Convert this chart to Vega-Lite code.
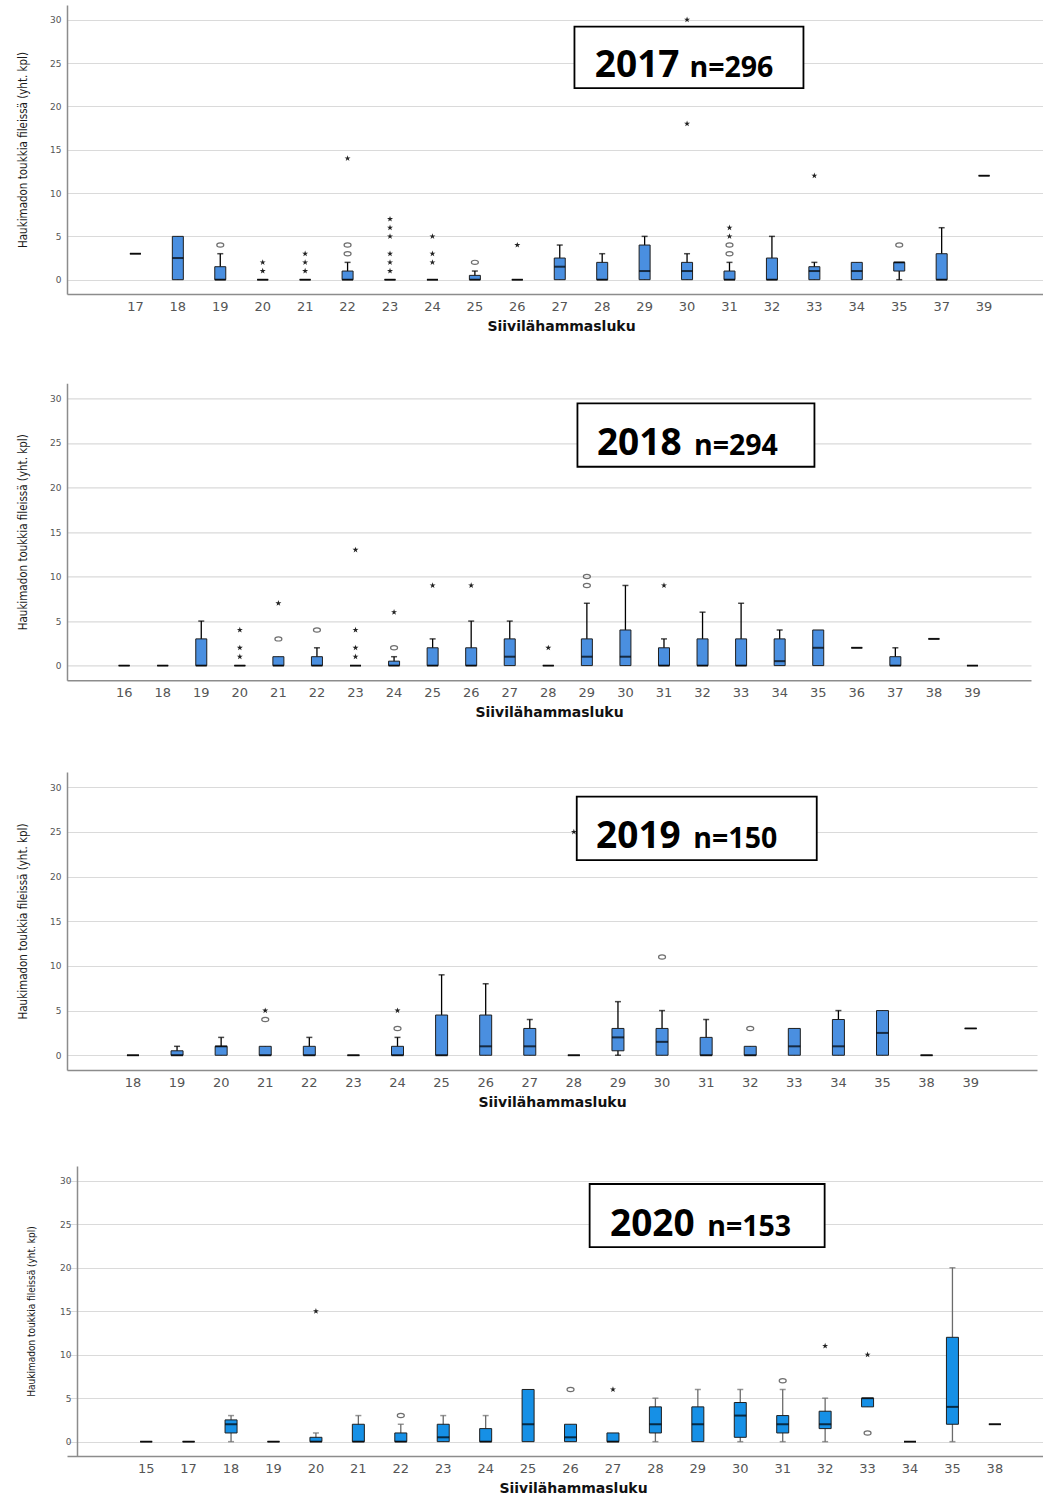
{
  "$schema": "https://vega.github.io/schema/vega-lite/v6.json",
  "padding": {"left": 17, "top": 5, "right": 0, "bottom": 0},
  "background": "white",
  "datasets": {
    "boxes": [
      {"year":2017,"g":"17","lo":3,"q1":3,"med":3,"q3":3,"hi":3},
      {"year":2017,"g":"18","lo":0,"q1":0,"med":2.5,"q3":5,"hi":5},
      {"year":2017,"g":"19","lo":0,"q1":0,"med":0,"q3":1.5,"hi":3},
      {"year":2017,"g":"20","lo":0,"q1":0,"med":0,"q3":0,"hi":0},
      {"year":2017,"g":"21","lo":0,"q1":0,"med":0,"q3":0,"hi":0},
      {"year":2017,"g":"22","lo":0,"q1":0,"med":0,"q3":1,"hi":2},
      {"year":2017,"g":"23","lo":0,"q1":0,"med":0,"q3":0,"hi":0},
      {"year":2017,"g":"24","lo":0,"q1":0,"med":0,"q3":0,"hi":0},
      {"year":2017,"g":"25","lo":0,"q1":0,"med":0,"q3":0.5,"hi":1},
      {"year":2017,"g":"26","lo":0,"q1":0,"med":0,"q3":0,"hi":0},
      {"year":2017,"g":"27","lo":0,"q1":0,"med":1.5,"q3":2.5,"hi":4},
      {"year":2017,"g":"28","lo":0,"q1":0,"med":0,"q3":2,"hi":3},
      {"year":2017,"g":"29","lo":0,"q1":0,"med":1,"q3":4,"hi":5},
      {"year":2017,"g":"30","lo":0,"q1":0,"med":1,"q3":2,"hi":3},
      {"year":2017,"g":"31","lo":0,"q1":0,"med":0,"q3":1,"hi":2},
      {"year":2017,"g":"32","lo":0,"q1":0,"med":0,"q3":2.5,"hi":5},
      {"year":2017,"g":"33","lo":0,"q1":0,"med":1,"q3":1.5,"hi":2},
      {"year":2017,"g":"34","lo":0,"q1":0,"med":1,"q3":2,"hi":2},
      {"year":2017,"g":"35","lo":0,"q1":1,"med":2,"q3":2,"hi":2},
      {"year":2017,"g":"37","lo":0,"q1":0,"med":0,"q3":3,"hi":6},
      {"year":2017,"g":"39","lo":12,"q1":12,"med":12,"q3":12,"hi":12},

      {"year":2018,"g":"16","lo":0,"q1":0,"med":0,"q3":0,"hi":0},
      {"year":2018,"g":"18","lo":0,"q1":0,"med":0,"q3":0,"hi":0},
      {"year":2018,"g":"19","lo":0,"q1":0,"med":0,"q3":3,"hi":5},
      {"year":2018,"g":"20","lo":0,"q1":0,"med":0,"q3":0,"hi":0},
      {"year":2018,"g":"21","lo":0,"q1":0,"med":0,"q3":1,"hi":1},
      {"year":2018,"g":"22","lo":0,"q1":0,"med":0,"q3":1,"hi":2},
      {"year":2018,"g":"23","lo":0,"q1":0,"med":0,"q3":0,"hi":0},
      {"year":2018,"g":"24","lo":0,"q1":0,"med":0,"q3":0.5,"hi":1},
      {"year":2018,"g":"25","lo":0,"q1":0,"med":0,"q3":2,"hi":3},
      {"year":2018,"g":"26","lo":0,"q1":0,"med":0,"q3":2,"hi":5},
      {"year":2018,"g":"27","lo":0,"q1":0,"med":1,"q3":3,"hi":5},
      {"year":2018,"g":"28","lo":0,"q1":0,"med":0,"q3":0,"hi":0},
      {"year":2018,"g":"29","lo":0,"q1":0,"med":1,"q3":3,"hi":7},
      {"year":2018,"g":"30","lo":0,"q1":0,"med":1,"q3":4,"hi":9},
      {"year":2018,"g":"31","lo":0,"q1":0,"med":0,"q3":2,"hi":3},
      {"year":2018,"g":"32","lo":0,"q1":0,"med":0,"q3":3,"hi":6},
      {"year":2018,"g":"33","lo":0,"q1":0,"med":0,"q3":3,"hi":7},
      {"year":2018,"g":"34","lo":0,"q1":0,"med":0.5,"q3":3,"hi":4},
      {"year":2018,"g":"35","lo":0,"q1":0,"med":2,"q3":4,"hi":4},
      {"year":2018,"g":"36","lo":2,"q1":2,"med":2,"q3":2,"hi":2},
      {"year":2018,"g":"37","lo":0,"q1":0,"med":0,"q3":1,"hi":2},
      {"year":2018,"g":"38","lo":3,"q1":3,"med":3,"q3":3,"hi":3},
      {"year":2018,"g":"39","lo":0,"q1":0,"med":0,"q3":0,"hi":0},

      {"year":2019,"g":"18","lo":0,"q1":0,"med":0,"q3":0,"hi":0},
      {"year":2019,"g":"19","lo":0,"q1":0,"med":0,"q3":0.5,"hi":1},
      {"year":2019,"g":"20","lo":0,"q1":0,"med":1,"q3":1,"hi":2},
      {"year":2019,"g":"21","lo":0,"q1":0,"med":0,"q3":1,"hi":1},
      {"year":2019,"g":"22","lo":0,"q1":0,"med":0,"q3":1,"hi":2},
      {"year":2019,"g":"23","lo":0,"q1":0,"med":0,"q3":0,"hi":0},
      {"year":2019,"g":"24","lo":0,"q1":0,"med":0,"q3":1,"hi":2},
      {"year":2019,"g":"25","lo":0,"q1":0,"med":0,"q3":4.5,"hi":9},
      {"year":2019,"g":"26","lo":0,"q1":0,"med":1,"q3":4.5,"hi":8},
      {"year":2019,"g":"27","lo":0,"q1":0,"med":1,"q3":3,"hi":4},
      {"year":2019,"g":"28","lo":0,"q1":0,"med":0,"q3":0,"hi":0},
      {"year":2019,"g":"29","lo":0,"q1":0.5,"med":2,"q3":3,"hi":6},
      {"year":2019,"g":"30","lo":0,"q1":0,"med":1.5,"q3":3,"hi":5},
      {"year":2019,"g":"31","lo":0,"q1":0,"med":0,"q3":2,"hi":4},
      {"year":2019,"g":"32","lo":0,"q1":0,"med":0,"q3":1,"hi":1},
      {"year":2019,"g":"33","lo":0,"q1":0,"med":1,"q3":3,"hi":3},
      {"year":2019,"g":"34","lo":0,"q1":0,"med":1,"q3":4,"hi":5},
      {"year":2019,"g":"35","lo":0,"q1":0,"med":2.5,"q3":5,"hi":5},
      {"year":2019,"g":"38","lo":0,"q1":0,"med":0,"q3":0,"hi":0},
      {"year":2019,"g":"39","lo":3,"q1":3,"med":3,"q3":3,"hi":3},

      {"year":2020,"g":"15","lo":0,"q1":0,"med":0,"q3":0,"hi":0},
      {"year":2020,"g":"17","lo":0,"q1":0,"med":0,"q3":0,"hi":0},
      {"year":2020,"g":"18","lo":0,"q1":1,"med":2,"q3":2.5,"hi":3},
      {"year":2020,"g":"19","lo":0,"q1":0,"med":0,"q3":0,"hi":0},
      {"year":2020,"g":"20","lo":0,"q1":0,"med":0,"q3":0.5,"hi":1},
      {"year":2020,"g":"21","lo":0,"q1":0,"med":0,"q3":2,"hi":3},
      {"year":2020,"g":"22","lo":0,"q1":0,"med":0,"q3":1,"hi":2},
      {"year":2020,"g":"23","lo":0,"q1":0,"med":0.5,"q3":2,"hi":3},
      {"year":2020,"g":"24","lo":0,"q1":0,"med":0,"q3":1.5,"hi":3},
      {"year":2020,"g":"25","lo":0,"q1":0,"med":2,"q3":6,"hi":6},
      {"year":2020,"g":"26","lo":0,"q1":0,"med":0.5,"q3":2,"hi":2},
      {"year":2020,"g":"27","lo":0,"q1":0,"med":0,"q3":1,"hi":1},
      {"year":2020,"g":"28","lo":0,"q1":1,"med":2,"q3":4,"hi":5},
      {"year":2020,"g":"29","lo":0,"q1":0,"med":2,"q3":4,"hi":6},
      {"year":2020,"g":"30","lo":0,"q1":0.5,"med":3,"q3":4.5,"hi":6},
      {"year":2020,"g":"31","lo":0,"q1":1,"med":2,"q3":3,"hi":6},
      {"year":2020,"g":"32","lo":0,"q1":1.5,"med":2,"q3":3.5,"hi":5},
      {"year":2020,"g":"33","lo":4,"q1":4,"med":5,"q3":5,"hi":5},
      {"year":2020,"g":"34","lo":0,"q1":0,"med":0,"q3":0,"hi":0},
      {"year":2020,"g":"35","lo":0,"q1":2,"med":4,"q3":12,"hi":20},
      {"year":2020,"g":"38","lo":2,"q1":2,"med":2,"q3":2,"hi":2}
    ],
    "outliers": [
      {"year":2017,"g":"19","v":4,"k":"o"},
      {"year":2017,"g":"20","v":1,"k":"*"},
      {"year":2017,"g":"20","v":2,"k":"*"},
      {"year":2017,"g":"21","v":1,"k":"*"},
      {"year":2017,"g":"21","v":2,"k":"*"},
      {"year":2017,"g":"21","v":3,"k":"*"},
      {"year":2017,"g":"22","v":3,"k":"o"},
      {"year":2017,"g":"22","v":4,"k":"o"},
      {"year":2017,"g":"22","v":14,"k":"*"},
      {"year":2017,"g":"23","v":1,"k":"*"},
      {"year":2017,"g":"23","v":2,"k":"*"},
      {"year":2017,"g":"23","v":3,"k":"*"},
      {"year":2017,"g":"23","v":5,"k":"*"},
      {"year":2017,"g":"23","v":6,"k":"*"},
      {"year":2017,"g":"23","v":7,"k":"*"},
      {"year":2017,"g":"24","v":2,"k":"*"},
      {"year":2017,"g":"24","v":3,"k":"*"},
      {"year":2017,"g":"24","v":5,"k":"*"},
      {"year":2017,"g":"25","v":2,"k":"o"},
      {"year":2017,"g":"26","v":4,"k":"*"},
      {"year":2017,"g":"30","v":18,"k":"*"},
      {"year":2017,"g":"30","v":30,"k":"*"},
      {"year":2017,"g":"31","v":3,"k":"o"},
      {"year":2017,"g":"31","v":4,"k":"o"},
      {"year":2017,"g":"31","v":5,"k":"*"},
      {"year":2017,"g":"31","v":6,"k":"*"},
      {"year":2017,"g":"33","v":12,"k":"*"},
      {"year":2017,"g":"35","v":4,"k":"o"},

      {"year":2018,"g":"20","v":1,"k":"*"},
      {"year":2018,"g":"20","v":2,"k":"*"},
      {"year":2018,"g":"20","v":4,"k":"*"},
      {"year":2018,"g":"21","v":3,"k":"o"},
      {"year":2018,"g":"21","v":7,"k":"*"},
      {"year":2018,"g":"22","v":4,"k":"o"},
      {"year":2018,"g":"23","v":1,"k":"*"},
      {"year":2018,"g":"23","v":2,"k":"*"},
      {"year":2018,"g":"23","v":4,"k":"*"},
      {"year":2018,"g":"23","v":13,"k":"*"},
      {"year":2018,"g":"24","v":2,"k":"o"},
      {"year":2018,"g":"24","v":6,"k":"*"},
      {"year":2018,"g":"25","v":9,"k":"*"},
      {"year":2018,"g":"26","v":9,"k":"*"},
      {"year":2018,"g":"28","v":2,"k":"*"},
      {"year":2018,"g":"29","v":9,"k":"o"},
      {"year":2018,"g":"29","v":10,"k":"o"},
      {"year":2018,"g":"31","v":9,"k":"*"},

      {"year":2019,"g":"21","v":4,"k":"o"},
      {"year":2019,"g":"21","v":5,"k":"*"},
      {"year":2019,"g":"24","v":3,"k":"o"},
      {"year":2019,"g":"24","v":5,"k":"*"},
      {"year":2019,"g":"28","v":25,"k":"*"},
      {"year":2019,"g":"30","v":11,"k":"o"},
      {"year":2019,"g":"32","v":3,"k":"o"},

      {"year":2020,"g":"20","v":15,"k":"*"},
      {"year":2020,"g":"22","v":3,"k":"o"},
      {"year":2020,"g":"26","v":6,"k":"o"},
      {"year":2020,"g":"27","v":6,"k":"*"},
      {"year":2020,"g":"31","v":7,"k":"o"},
      {"year":2020,"g":"32","v":11,"k":"*"},
      {"year":2020,"g":"33","v":1,"k":"o"},
      {"year":2020,"g":"33","v":10,"k":"*"}
    ],
    "notes": [
      {"year":2017,"yr":"2017","n":"n=296"},
      {"year":2018,"yr":"2018","n":"n=294"},
      {"year":2019,"yr":"2019","n":"n=150"},
      {"year":2020,"yr":"2020","n":"n=153"}
    ]
  },
  "vconcat": [
    {
      "spacing": 50.3,
      "vconcat": [
        {
          "width": 976, "height": 289,
          "encoding": {"x": {"field": "g", "type": "nominal", "title": "Siivilähammasluku", "axis": {"titleX": 494}, "scale": {"domain": ["17","18","19","20","21","22","23","24","25","26","27","28","29","30","31","32","33","34","35","37","39"], "paddingInner": 0, "paddingOuter": 1.064, "align": 0.556}}},
          "layer": [
            {
              "data": {"name": "boxes"},
              "transform": [{"filter": "datum.year == 2017"}],
              "layer": [
                {"mark": {"type": "rule", "color": "#000000", "strokeWidth": 1.3},
                 "encoding": {"y": {"field": "lo", "type": "quantitative", "title": "Haukimadon toukkia fileissä (yht. kpl)", "scale": {"domain": [-1.65, 31.7], "nice": false, "zero": false}, "axis": {"values": [0,5,10,15,20,25,30]}}, "y2": {"field": "hi", "title": "Haukimadon toukkia fileissä (yht. kpl)"}}},
                {"transform": [{"filter": "datum.hi > datum.q3"}],
                 "mark": {"type": "tick", "color": "#000000", "size": 6, "thickness": 1.5},
                 "encoding": {"y": {"field": "hi", "type": "quantitative", "title": "Haukimadon toukkia fileissä (yht. kpl)", "scale": {"domain": [-1.65, 31.7], "nice": false, "zero": false}, "axis": {"values": [0,5,10,15,20,25,30]}}}},
                {"transform": [{"filter": "datum.lo < datum.q1"}],
                 "mark": {"type": "tick", "color": "#000000", "size": 6, "thickness": 1.5},
                 "encoding": {"y": {"field": "lo", "type": "quantitative", "title": "Haukimadon toukkia fileissä (yht. kpl)", "scale": {"domain": [-1.65, 31.7], "nice": false, "zero": false}, "axis": {"values": [0,5,10,15,20,25,30]}}}},
                {"mark": {"type": "bar", "width": 11, "fill": "#4a8fe0", "stroke": "#1f1f1f", "strokeWidth": 1},
                 "encoding": {"y": {"field": "q1", "type": "quantitative", "title": "Haukimadon toukkia fileissä (yht. kpl)", "scale": {"domain": [-1.65, 31.7], "nice": false, "zero": false}, "axis": {"values": [0,5,10,15,20,25,30]}}, "y2": {"field": "q3", "title": "Haukimadon toukkia fileissä (yht. kpl)"}}},
                {"mark": {"type": "tick", "color": "#000000", "size": 11, "thickness": 2},
                 "encoding": {"y": {"field": "med", "type": "quantitative", "title": "Haukimadon toukkia fileissä (yht. kpl)", "scale": {"domain": [-1.65, 31.7], "nice": false, "zero": false}, "axis": {"values": [0,5,10,15,20,25,30]}}}}
              ]
            },
            {
              "data": {"name": "outliers"},
              "transform": [{"filter": "datum.year == 2017"}],
              "layer": [
                {"transform": [{"filter": "datum.k == 'o'"}],
                 "mark": {"type": "point", "shape": "M-1,0A1,0.6,0,1,1,1,0A1,0.6,0,1,1,-1,0Z", "filled": false, "stroke": "#333333", "strokeWidth": 1.2, "size": 49},
                 "encoding": {"y": {"field": "v", "type": "quantitative", "title": "Haukimadon toukkia fileissä (yht. kpl)", "scale": {"domain": [-1.65, 31.7], "nice": false, "zero": false}, "axis": {"values": [0,5,10,15,20,25,30]}}}},
                {"transform": [{"filter": "datum.k == '*'"}],
                 "mark": {"type": "point", "shape": "M0,-1L0.224,-0.309L0.951,-0.309L0.363,0.118L0.588,0.809L0,0.382L-0.588,0.809L-0.363,0.118L-0.951,-0.309L-0.224,-0.309Z", "filled": true, "fill": "#222222", "strokeWidth": 0, "size": 40, "opacity": 1},
                 "encoding": {"y": {"field": "v", "type": "quantitative", "title": "Haukimadon toukkia fileissä (yht. kpl)", "scale": {"domain": [-1.65, 31.7], "nice": false, "zero": false}, "axis": {"values": [0,5,10,15,20,25,30]}}}}
              ]
            },
            {
              "data": {"name": "notes"},
              "transform": [{"filter": "datum.year == 2017"}],
              "layer": [
                {"mark": {"type": "rect", "width": 229, "xOffset": 1.9, "fill": "white", "stroke": "#000000", "strokeWidth": 1.8},
                 "encoding": {"x": {"datum": "30", "type": "nominal", "title": "Siivilähammasluku"}, "y": {"datum": 29.2, "type": "quantitative", "title": "Haukimadon toukkia fileissä (yht. kpl)", "scale": {"domain": [-1.65, 31.7], "nice": false, "zero": false}, "axis": {"values": [0,5,10,15,20,25,30]}}, "y2": {"datum": 22.1}}},
                {"mark": {"type": "text", "font": "Open Sans", "fontWeight": "bold", "fontSize": 37, "align": "right", "baseline": "alphabetic", "dx": -7.6, "color": "#000000"},
                 "encoding": {"x": {"datum": "30", "type": "nominal", "title": "Siivilähammasluku"}, "y": {"datum": 23.39, "type": "quantitative", "title": "Haukimadon toukkia fileissä (yht. kpl)", "scale": {"domain": [-1.65, 31.7], "nice": false, "zero": false}, "axis": {"values": [0,5,10,15,20,25,30]}}, "text": {"field": "yr"}}},
                {"mark": {"type": "text", "font": "Open Sans", "fontWeight": "bold", "fontSize": 28.5, "align": "left", "baseline": "alphabetic", "dx": 2.4, "color": "#000000"},
                 "encoding": {"x": {"datum": "30", "type": "nominal", "title": "Siivilähammasluku"}, "y": {"datum": 23.39, "type": "quantitative", "title": "Haukimadon toukkia fileissä (yht. kpl)", "scale": {"domain": [-1.65, 31.7], "nice": false, "zero": false}, "axis": {"values": [0,5,10,15,20,25,30]}}, "text": {"field": "n"}}}
              ]
            }
          ]
        },
        {
          "spacing": 52.7,
          "vconcat": [
            {
              "width": 964, "height": 297,
              "encoding": {"x": {"field": "g", "type": "nominal", "title": "Siivilähammasluku", "scale": {"domain": ["16","18","19","20","21","22","23","24","25","26","27","28","29","30","31","32","33","34","35","36","37","38","39"], "paddingInner": 0, "paddingOuter": 1.25, "align": 0.491}}},
              "layer": [
                {
                  "data": {"name": "boxes"},
                  "transform": [{"filter": "datum.year == 2018"}],
                  "layer": [
                    {"mark": {"type": "rule", "color": "#000000", "strokeWidth": 1.3},
                     "encoding": {"y": {"field": "lo", "type": "quantitative", "title": "Haukimadon toukkia fileissä (yht. kpl)", "scale": {"domain": [-1.65, 31.7], "nice": false, "zero": false}, "axis": {"values": [0,5,10,15,20,25,30]}}, "y2": {"field": "hi", "title": "Haukimadon toukkia fileissä (yht. kpl)"}}},
                    {"transform": [{"filter": "datum.hi > datum.q3"}],
                     "mark": {"type": "tick", "color": "#000000", "size": 6, "thickness": 1.5},
                     "encoding": {"y": {"field": "hi", "type": "quantitative", "title": "Haukimadon toukkia fileissä (yht. kpl)", "scale": {"domain": [-1.65, 31.7], "nice": false, "zero": false}, "axis": {"values": [0,5,10,15,20,25,30]}}}},
                    {"transform": [{"filter": "datum.lo < datum.q1"}],
                     "mark": {"type": "tick", "color": "#000000", "size": 6, "thickness": 1.5},
                     "encoding": {"y": {"field": "lo", "type": "quantitative", "title": "Haukimadon toukkia fileissä (yht. kpl)", "scale": {"domain": [-1.65, 31.7], "nice": false, "zero": false}, "axis": {"values": [0,5,10,15,20,25,30]}}}},
                    {"mark": {"type": "bar", "width": 11, "fill": "#4a8fe0", "stroke": "#1f1f1f", "strokeWidth": 1},
                     "encoding": {"y": {"field": "q1", "type": "quantitative", "title": "Haukimadon toukkia fileissä (yht. kpl)", "scale": {"domain": [-1.65, 31.7], "nice": false, "zero": false}, "axis": {"values": [0,5,10,15,20,25,30]}}, "y2": {"field": "q3", "title": "Haukimadon toukkia fileissä (yht. kpl)"}}},
                    {"mark": {"type": "tick", "color": "#000000", "size": 11, "thickness": 2},
                     "encoding": {"y": {"field": "med", "type": "quantitative", "title": "Haukimadon toukkia fileissä (yht. kpl)", "scale": {"domain": [-1.65, 31.7], "nice": false, "zero": false}, "axis": {"values": [0,5,10,15,20,25,30]}}}}
                  ]
                },
                {
                  "data": {"name": "outliers"},
                  "transform": [{"filter": "datum.year == 2018"}],
                  "layer": [
                    {"transform": [{"filter": "datum.k == 'o'"}],
                     "mark": {"type": "point", "shape": "M-1,0A1,0.6,0,1,1,1,0A1,0.6,0,1,1,-1,0Z", "filled": false, "stroke": "#333333", "strokeWidth": 1.2, "size": 49},
                     "encoding": {"y": {"field": "v", "type": "quantitative", "title": "Haukimadon toukkia fileissä (yht. kpl)", "scale": {"domain": [-1.65, 31.7], "nice": false, "zero": false}, "axis": {"values": [0,5,10,15,20,25,30]}}}},
                    {"transform": [{"filter": "datum.k == '*'"}],
                     "mark": {"type": "point", "shape": "M0,-1L0.224,-0.309L0.951,-0.309L0.363,0.118L0.588,0.809L0,0.382L-0.588,0.809L-0.363,0.118L-0.951,-0.309L-0.224,-0.309Z", "filled": true, "fill": "#222222", "strokeWidth": 0, "size": 40, "opacity": 1},
                     "encoding": {"y": {"field": "v", "type": "quantitative", "title": "Haukimadon toukkia fileissä (yht. kpl)", "scale": {"domain": [-1.65, 31.7], "nice": false, "zero": false}, "axis": {"values": [0,5,10,15,20,25,30]}}}}
                  ]
                },
                {
                  "data": {"name": "notes"},
                  "transform": [{"filter": "datum.year == 2018"}],
                  "layer": [
                    {"mark": {"type": "rect", "width": 237, "xOffset": -6.6, "fill": "white", "stroke": "#000000", "strokeWidth": 1.8},
                     "encoding": {"x": {"datum": "32", "type": "nominal", "title": "Siivilähammasluku"}, "y": {"datum": 29.45, "type": "quantitative", "title": "Haukimadon toukkia fileissä (yht. kpl)", "scale": {"domain": [-1.65, 31.7], "nice": false, "zero": false}, "axis": {"values": [0,5,10,15,20,25,30]}}, "y2": {"datum": 22.33}}},
                    {"mark": {"type": "text", "font": "Open Sans", "fontWeight": "bold", "fontSize": 37, "align": "right", "baseline": "alphabetic", "dx": -21, "color": "#000000"},
                     "encoding": {"x": {"datum": "32", "type": "nominal", "title": "Siivilähammasluku"}, "y": {"datum": 23.65, "type": "quantitative", "title": "Haukimadon toukkia fileissä (yht. kpl)", "scale": {"domain": [-1.65, 31.7], "nice": false, "zero": false}, "axis": {"values": [0,5,10,15,20,25,30]}}, "text": {"field": "yr"}}},
                    {"mark": {"type": "text", "font": "Open Sans", "fontWeight": "bold", "fontSize": 28.5, "align": "left", "baseline": "alphabetic", "dx": -8.6, "color": "#000000"},
                     "encoding": {"x": {"datum": "32", "type": "nominal", "title": "Siivilähammasluku"}, "y": {"datum": 23.65, "type": "quantitative", "title": "Haukimadon toukkia fileissä (yht. kpl)", "scale": {"domain": [-1.65, 31.7], "nice": false, "zero": false}, "axis": {"values": [0,5,10,15,20,25,30]}}, "text": {"field": "n"}}}
                  ]
                }
              ]
            },
            {
              "width": 970, "height": 298,
              "encoding": {"x": {"field": "g", "type": "nominal", "title": "Siivilähammasluku", "scale": {"domain": ["18","19","20","21","22","23","24","25","26","27","28","29","30","31","32","33","34","35","38","39"], "paddingInner": 0, "paddingOuter": 1.073, "align": 0.498}}},
              "layer": [
                {
                  "data": {"name": "boxes"},
                  "transform": [{"filter": "datum.year == 2019"}],
                  "layer": [
                    {"mark": {"type": "rule", "color": "#000000", "strokeWidth": 1.3},
                     "encoding": {"y": {"field": "lo", "type": "quantitative", "title": "Haukimadon toukkia fileissä (yht. kpl)", "scale": {"domain": [-1.65, 31.7], "nice": false, "zero": false}, "axis": {"values": [0,5,10,15,20,25,30]}}, "y2": {"field": "hi", "title": "Haukimadon toukkia fileissä (yht. kpl)"}}},
                    {"transform": [{"filter": "datum.hi > datum.q3"}],
                     "mark": {"type": "tick", "color": "#000000", "size": 6, "thickness": 1.5},
                     "encoding": {"y": {"field": "hi", "type": "quantitative", "title": "Haukimadon toukkia fileissä (yht. kpl)", "scale": {"domain": [-1.65, 31.7], "nice": false, "zero": false}, "axis": {"values": [0,5,10,15,20,25,30]}}}},
                    {"transform": [{"filter": "datum.lo < datum.q1"}],
                     "mark": {"type": "tick", "color": "#000000", "size": 6, "thickness": 1.5},
                     "encoding": {"y": {"field": "lo", "type": "quantitative", "title": "Haukimadon toukkia fileissä (yht. kpl)", "scale": {"domain": [-1.65, 31.7], "nice": false, "zero": false}, "axis": {"values": [0,5,10,15,20,25,30]}}}},
                    {"mark": {"type": "bar", "width": 12, "fill": "#4a8fe0", "stroke": "#1f1f1f", "strokeWidth": 1},
                     "encoding": {"y": {"field": "q1", "type": "quantitative", "title": "Haukimadon toukkia fileissä (yht. kpl)", "scale": {"domain": [-1.65, 31.7], "nice": false, "zero": false}, "axis": {"values": [0,5,10,15,20,25,30]}}, "y2": {"field": "q3", "title": "Haukimadon toukkia fileissä (yht. kpl)"}}},
                    {"mark": {"type": "tick", "color": "#000000", "size": 12, "thickness": 2},
                     "encoding": {"y": {"field": "med", "type": "quantitative", "title": "Haukimadon toukkia fileissä (yht. kpl)", "scale": {"domain": [-1.65, 31.7], "nice": false, "zero": false}, "axis": {"values": [0,5,10,15,20,25,30]}}}}
                  ]
                },
                {
                  "data": {"name": "outliers"},
                  "transform": [{"filter": "datum.year == 2019"}],
                  "layer": [
                    {"transform": [{"filter": "datum.k == 'o'"}],
                     "mark": {"type": "point", "shape": "M-1,0A1,0.6,0,1,1,1,0A1,0.6,0,1,1,-1,0Z", "filled": false, "stroke": "#333333", "strokeWidth": 1.2, "size": 49},
                     "encoding": {"y": {"field": "v", "type": "quantitative", "title": "Haukimadon toukkia fileissä (yht. kpl)", "scale": {"domain": [-1.65, 31.7], "nice": false, "zero": false}, "axis": {"values": [0,5,10,15,20,25,30]}}}},
                    {"transform": [{"filter": "datum.k == '*'"}],
                     "mark": {"type": "point", "shape": "M0,-1L0.224,-0.309L0.951,-0.309L0.363,0.118L0.588,0.809L0,0.382L-0.588,0.809L-0.363,0.118L-0.951,-0.309L-0.224,-0.309Z", "filled": true, "fill": "#222222", "strokeWidth": 0, "size": 40, "opacity": 1},
                     "encoding": {"y": {"field": "v", "type": "quantitative", "title": "Haukimadon toukkia fileissä (yht. kpl)", "scale": {"domain": [-1.65, 31.7], "nice": false, "zero": false}, "axis": {"values": [0,5,10,15,20,25,30]}}}}
                  ]
                },
                {
                  "data": {"name": "notes"},
                  "transform": [{"filter": "datum.year == 2019"}],
                  "layer": [
                    {"mark": {"type": "rect", "width": 240, "xOffset": -9.4, "fill": "white", "stroke": "#000000", "strokeWidth": 1.8},
                     "encoding": {"x": {"datum": "31", "type": "nominal", "title": "Siivilähammasluku"}, "y": {"datum": 28.94, "type": "quantitative", "title": "Haukimadon toukkia fileissä (yht. kpl)", "scale": {"domain": [-1.65, 31.7], "nice": false, "zero": false}, "axis": {"values": [0,5,10,15,20,25,30]}}, "y2": {"datum": 21.84}}},
                    {"mark": {"type": "text", "font": "Open Sans", "fontWeight": "bold", "fontSize": 37, "align": "right", "baseline": "alphabetic", "dx": -25.4, "color": "#000000"},
                     "encoding": {"x": {"datum": "31", "type": "nominal", "title": "Siivilähammasluku"}, "y": {"datum": 23.22, "type": "quantitative", "title": "Haukimadon toukkia fileissä (yht. kpl)", "scale": {"domain": [-1.65, 31.7], "nice": false, "zero": false}, "axis": {"values": [0,5,10,15,20,25,30]}}, "text": {"field": "yr"}}},
                    {"mark": {"type": "text", "font": "Open Sans", "fontWeight": "bold", "fontSize": 28.5, "align": "left", "baseline": "alphabetic", "dx": -12.8, "color": "#000000"},
                     "encoding": {"x": {"datum": "31", "type": "nominal", "title": "Siivilähammasluku"}, "y": {"datum": 23.22, "type": "quantitative", "title": "Haukimadon toukkia fileissä (yht. kpl)", "scale": {"domain": [-1.65, 31.7], "nice": false, "zero": false}, "axis": {"values": [0,5,10,15,20,25,30]}}, "text": {"field": "n"}}}
                  ]
                }
              ]
            }
          ]
        }
      ]
    },
    {
      "width": 976, "height": 290,
      "encoding": {"x": {"field": "g", "type": "nominal", "title": "Siivilähammasluku", "axis": {"titleX": 506}, "scale": {"domain": ["15","17","18","19","20","21","22","23","24","25","26","27","28","29","30","31","32","33","34","35","38"], "paddingInner": 0, "paddingOuter": 1.0365, "align": 0.683}}},
      "layer": [
        {
          "data": {"name": "boxes"},
          "transform": [{"filter": "datum.year == 2020"}],
          "layer": [
            {"mark": {"type": "rule", "color": "#6b6b6b", "strokeWidth": 1.3},
             "encoding": {"y": {"field": "lo", "type": "quantitative", "title": "Haukimadon toukkia fileissä (yht. kpl)", "scale": {"domain": [-1.65, 31.7], "nice": false, "zero": false}, "axis": {"values": [0,5,10,15,20,25,30], "titleFontSize": 10, "titlePadding": 23, "offset": -10}}, "y2": {"field": "hi", "title": "Haukimadon toukkia fileissä (yht. kpl)"}}},
            {"transform": [{"filter": "datum.hi > datum.q3"}],
             "mark": {"type": "tick", "color": "#6b6b6b", "size": 6, "thickness": 1.5},
             "encoding": {"y": {"field": "hi", "type": "quantitative", "title": "Haukimadon toukkia fileissä (yht. kpl)", "scale": {"domain": [-1.65, 31.7], "nice": false, "zero": false}, "axis": {"values": [0,5,10,15,20,25,30], "titleFontSize": 10, "titlePadding": 23, "offset": -10}}}},
            {"transform": [{"filter": "datum.lo < datum.q1"}],
             "mark": {"type": "tick", "color": "#6b6b6b", "size": 6, "thickness": 1.5},
             "encoding": {"y": {"field": "lo", "type": "quantitative", "title": "Haukimadon toukkia fileissä (yht. kpl)", "scale": {"domain": [-1.65, 31.7], "nice": false, "zero": false}, "axis": {"values": [0,5,10,15,20,25,30], "titleFontSize": 10, "titlePadding": 23, "offset": -10}}}},
            {"mark": {"type": "bar", "width": 12, "fill": "#1690e6", "stroke": "#1f1f1f", "strokeWidth": 1},
             "encoding": {"y": {"field": "q1", "type": "quantitative", "title": "Haukimadon toukkia fileissä (yht. kpl)", "scale": {"domain": [-1.65, 31.7], "nice": false, "zero": false}, "axis": {"values": [0,5,10,15,20,25,30], "titleFontSize": 10, "titlePadding": 23, "offset": -10}}, "y2": {"field": "q3", "title": "Haukimadon toukkia fileissä (yht. kpl)"}}},
            {"mark": {"type": "tick", "color": "#000000", "size": 12, "thickness": 2},
             "encoding": {"y": {"field": "med", "type": "quantitative", "title": "Haukimadon toukkia fileissä (yht. kpl)", "scale": {"domain": [-1.65, 31.7], "nice": false, "zero": false}, "axis": {"values": [0,5,10,15,20,25,30], "titleFontSize": 10, "titlePadding": 23, "offset": -10}}}}
          ]
        },
        {
          "data": {"name": "outliers"},
          "transform": [{"filter": "datum.year == 2020"}],
          "layer": [
            {"transform": [{"filter": "datum.k == 'o'"}],
             "mark": {"type": "point", "shape": "M-1,0A1,0.6,0,1,1,1,0A1,0.6,0,1,1,-1,0Z", "filled": false, "stroke": "#333333", "strokeWidth": 1.2, "size": 49},
             "encoding": {"y": {"field": "v", "type": "quantitative", "title": "Haukimadon toukkia fileissä (yht. kpl)", "scale": {"domain": [-1.65, 31.7], "nice": false, "zero": false}, "axis": {"values": [0,5,10,15,20,25,30], "titleFontSize": 10, "titlePadding": 23, "offset": -10}}}},
            {"transform": [{"filter": "datum.k == '*'"}],
             "mark": {"type": "point", "shape": "M0,-1L0.224,-0.309L0.951,-0.309L0.363,0.118L0.588,0.809L0,0.382L-0.588,0.809L-0.363,0.118L-0.951,-0.309L-0.224,-0.309Z", "filled": true, "fill": "#222222", "strokeWidth": 0, "size": 40, "opacity": 1},
             "encoding": {"y": {"field": "v", "type": "quantitative", "title": "Haukimadon toukkia fileissä (yht. kpl)", "scale": {"domain": [-1.65, 31.7], "nice": false, "zero": false}, "axis": {"values": [0,5,10,15,20,25,30], "titleFontSize": 10, "titlePadding": 23, "offset": -10}}}}
          ]
        },
        {
          "data": {"name": "notes"},
          "transform": [{"filter": "datum.year == 2020"}],
          "layer": [
            {"mark": {"type": "rect", "width": 235, "xOffset": 9.3, "fill": "white", "stroke": "#000000", "strokeWidth": 1.8},
             "encoding": {"x": {"datum": "29", "type": "nominal", "title": "Siivilähammasluku"}, "y": {"datum": 29.63, "type": "quantitative", "title": "Haukimadon toukkia fileissä (yht. kpl)", "scale": {"domain": [-1.65, 31.7], "nice": false, "zero": false}, "axis": {"values": [0,5,10,15,20,25,30], "titleFontSize": 10, "titlePadding": 23, "offset": -10}}, "y2": {"datum": 22.36}}},
            {"mark": {"type": "text", "font": "Open Sans", "fontWeight": "bold", "fontSize": 37, "align": "right", "baseline": "alphabetic", "dx": -3.2, "color": "#000000"},
             "encoding": {"x": {"datum": "29", "type": "nominal", "title": "Siivilähammasluku"}, "y": {"datum": 23.7, "type": "quantitative", "title": "Haukimadon toukkia fileissä (yht. kpl)", "scale": {"domain": [-1.65, 31.7], "nice": false, "zero": false}, "axis": {"values": [0,5,10,15,20,25,30], "titleFontSize": 10, "titlePadding": 23, "offset": -10}}, "text": {"field": "yr"}}},
            {"mark": {"type": "text", "font": "Open Sans", "fontWeight": "bold", "fontSize": 28.5, "align": "left", "baseline": "alphabetic", "dx": 9.4, "color": "#000000"},
             "encoding": {"x": {"datum": "29", "type": "nominal", "title": "Siivilähammasluku"}, "y": {"datum": 23.7, "type": "quantitative", "title": "Haukimadon toukkia fileissä (yht. kpl)", "scale": {"domain": [-1.65, 31.7], "nice": false, "zero": false}, "axis": {"values": [0,5,10,15,20,25,30], "titleFontSize": 10, "titlePadding": 23, "offset": -10}}, "text": {"field": "n"}}}
          ]
        }
      ]
    }
  ],
  "spacing": 57,
  "config": {
    "view": {"stroke": null},
    "axis": {"domainColor": "#8c8c8c", "domainWidth": 1.5, "ticks": false, "labelColor": "#555555", "labelFont": "DejaVu Sans"},
    "axisX": {"grid": false, "labelAngle": 0, "labelFontSize": 13, "labelPadding": 6, "titleFont": "DejaVu Sans", "titleFontSize": 14, "titleFontWeight": "bold", "titleColor": "#111111", "titlePadding": 6},
    "axisY": {"grid": true, "gridColor": "#dadada", "gridWidth": 1.2, "labelFontSize": 9, "labelPadding": 6, "titleFont": "Liberation Sans Narrow, DejaVu Sans Condensed, Liberation Sans, sans-serif", "titleFontSize": 11.5, "titleFontWeight": "normal", "titleColor": "#1a1a1a", "titlePadding": 21}
  }
}
